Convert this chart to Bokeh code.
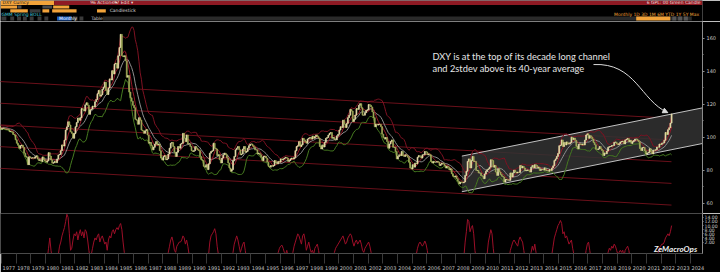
import pandas as pd
from bokeh.plotting import figure
from bokeh.layouts import column
from bokeh.models import (ColumnDataSource, FixedTicker, Range1d, PrintfTickFormatter,
                          Arrow, NormalHead)
from bokeh.core.properties import value
from bokeh.embed import file_html
from bokeh.resources import INLINE

# ---------------- DATA ----------------
first_year = 1976  # monthly closes start Jan 1976 (1976 = warm-up for the bands)

dxy_1970s = [105.2, 104.9, 105.9, 106.2, 106.8, 106.6, 106.3, 106.3, 106.0, 106.0, 105.6, 105.0,
             105.5, 105.6, 105.2, 105.0, 105.0, 104.6, 103.5, 103.6, 103.3, 101.8, 101.5, 98.6,
             96.5, 95.3, 93.4, 95.0, 95.4, 94.0, 90.5, 88.5, 88.0, 83.5, 88.3, 87.5,
             87.5, 87.7, 87.4, 88.3, 88.9, 86.9, 86.0, 86.5, 85.5, 88.2, 86.6, 85.7]
dxy_1980s = [85.0, 85.9, 90.8, 88.7, 86.3, 84.4, 84.7, 85.5, 84.7, 87.0, 89.4, 89.7,
             92.0, 95.5, 94.8, 98.4, 104.5, 106.4, 109.5, 107.5, 103.5, 102.5, 99.5, 102.4,
             106.5, 109.0, 111.8, 110.4, 112.0, 117.5, 117.0, 116.0, 119.8, 121.0, 119.5, 114.0,
             116.8, 117.2, 119.0, 118.5, 121.6, 123.0, 126.5, 128.5, 125.0, 125.8, 129.2, 130.5,
             133.5, 128.5, 126.0, 130.0, 135.5, 134.8, 140.5, 138.5, 144.5, 145.0, 142.0, 149.5,
             154.5, 162.5, 149.5, 149.0, 149.5, 146.5, 136.5, 137.5, 127.5, 124.0, 122.0, 119.5,
             118.0, 111.0, 110.5, 108.0, 112.0, 110.5, 104.5, 104.0, 102.5, 104.0, 104.8, 101.5,
             96.5, 97.0, 95.0, 92.5, 94.0, 96.0, 97.5, 95.5, 96.0, 92.0, 87.5, 86.3,
             88.5, 89.0, 86.5, 87.0, 90.0, 93.5, 96.5, 97.0, 94.5, 91.0, 88.5, 91.0,
             94.5, 93.5, 96.0, 96.5, 102.5, 99.5, 97.5, 101.5, 96.0, 96.0, 94.5, 92.0]
dxy_1990s = [91.5, 92.0, 94.5, 93.5, 92.5, 92.0, 88.5, 86.5, 86.0, 82.5, 82.0, 83.5,
             80.5, 84.0, 90.5, 91.5, 92.0, 96.5, 93.5, 93.0, 89.0, 89.5, 86.5, 84.5,
             87.5, 89.5, 90.5, 89.5, 87.5, 84.5, 81.5, 79.5, 80.5, 86.0, 88.5, 92.5,
             93.5, 94.5, 92.5, 89.5, 90.0, 93.0, 94.5, 91.0, 91.5, 93.5, 95.0, 96.0,
             96.0, 95.0, 94.0, 92.5, 92.5, 90.0, 90.5, 89.5, 88.0, 86.0, 88.5, 88.7,
             87.5, 85.0, 82.5, 82.0, 83.0, 82.5, 83.0, 86.0, 84.5, 84.0, 85.5, 85.0,
             87.0, 86.5, 87.0, 87.5, 88.0, 87.5, 85.5, 86.0, 87.0, 87.5, 87.0, 87.8,
             92.0, 94.5, 95.0, 97.5, 94.5, 95.5, 99.5, 98.5, 97.5, 96.5, 99.0, 99.6,
             100.0, 99.0, 100.8, 99.5, 100.5, 101.5, 100.5, 99.5, 94.5, 93.0, 95.5, 94.2,
             97.0, 99.5, 100.0, 101.5, 102.5, 103.0, 99.5, 100.0, 98.5, 98.5, 101.0, 101.9]
dxy_2000s = [104.5, 106.5, 106.0, 110.5, 108.0, 106.0, 108.5, 112.0, 113.5, 117.0, 116.0, 109.6,
             111.0, 113.5, 117.5, 117.0, 119.5, 120.5, 118.0, 113.5, 113.5, 115.0, 116.5, 116.8,
             120.0, 119.5, 118.5, 115.5, 112.0, 106.5, 108.0, 107.5, 108.0, 108.0, 106.5, 102.0,
             100.0, 99.0, 100.0, 97.5, 93.5, 96.0, 97.5, 98.5, 94.0, 94.0, 91.5, 87.0,
             88.5, 89.5, 89.0, 91.5, 89.0, 88.5, 89.5, 89.0, 88.0, 85.0, 81.5, 80.9,
             83.5, 82.0, 84.5, 84.0, 88.0, 89.0, 88.5, 87.5, 89.5, 89.5, 91.5, 91.2,
             89.5, 90.0, 89.5, 85.5, 84.5, 85.5, 85.0, 85.0, 85.5, 85.0, 83.0, 83.7,
             84.5, 84.0, 83.0, 81.5, 82.5, 82.0, 80.5, 81.0, 78.0, 76.5, 76.0, 76.7,
             75.0, 73.5, 71.8, 73.0, 72.8, 72.5, 73.0, 77.0, 79.5, 85.5, 87.0, 81.5,
             86.0, 88.5, 85.5, 85.5, 80.0, 80.0, 78.5, 78.5, 76.8, 76.5, 75.0, 77.9]
dxy_2010s = [79.5, 80.5, 81.0, 82.0, 86.5, 86.0, 82.0, 83.0, 79.0, 77.0, 81.0, 79.0,
             77.5, 76.5, 76.0, 73.0, 74.5, 74.5, 74.0, 74.0, 78.5, 76.0, 78.5, 80.2,
             79.0, 78.5, 79.0, 78.8, 83.0, 81.5, 82.5, 81.5, 79.8, 80.0, 80.2, 79.8,
             79.0, 82.0, 83.0, 81.5, 83.5, 83.0, 81.5, 82.0, 80.0, 80.5, 80.7, 80.2,
             81.5, 80.0, 80.0, 79.5, 80.5, 80.0, 81.5, 82.8, 86.0, 87.0, 88.5, 90.3,
             95.0, 95.3, 98.5, 94.5, 97.0, 95.5, 97.3, 96.0, 96.2, 97.0, 100.2, 98.7,
             99.6, 98.3, 94.6, 93.1, 95.9, 96.1, 95.5, 96.0, 95.4, 98.4, 101.5, 102.2,
             99.5, 101.1, 100.3, 99.0, 97.0, 95.6, 92.9, 92.7, 93.1, 94.5, 93.0, 92.1,
             89.1, 90.6, 90.1, 91.8, 94.0, 94.5, 94.5, 95.1, 95.1, 97.1, 97.2, 96.2,
             95.6, 96.2, 97.3, 97.5, 97.8, 96.1, 98.5, 98.9, 99.4, 97.4, 98.3, 96.4]
dxy_2020s = [97.4, 98.1, 99.0, 99.0, 98.3, 97.4, 93.3, 92.1, 93.9, 94.0, 91.9, 89.9,
             90.6, 90.9, 93.2, 91.3, 90.0, 92.4, 92.2, 92.6, 94.2, 94.1, 96.0, 95.7,
             96.5, 96.7, 98.3, 103.0, 101.8, 104.7, 105.9, 108.7, 114.2]

ind_1970s = [-6, -6, -6, -6, -6, -6, -6, -6, -6, -6, -6, -6,
             -6, -6, -6, -6, -6, -6, -6, -6, -6, -6, -6, -6,
             -6, -6, -6, -6, -6, -6, -6, -6, -6, -6, -6, -6,
             -6, -6, -6, -6, -6, -6, -6, -6, -6, -6, -6, -6]
ind_1980s = [-6, -6, -1, 4, -2, -6, -6, -6, -6, -6, -4, 0,
             2, 5, 7, 9, 12, 15.5, 14, 6, -2, -1, 3, 6,
             5, 7, 3, 6, 8, 5, 7, 4, 8, 7, 3, -2,
             -6, -4, -1, 2, 4, 3, 5, 6, 2, 4, 5, 3,
             1, 2, -2, 3, 5, 4, 7, 8, 6, 8, 9, 8,
             10, 11, 8, 2, -3, -6, -6, -6, -6, -6, -6, -6,
             -6, -6, -6, -6, -6, -6, -6, -6, -6, -6, -6, -6,
             -6, -6, -6, -6, -6, -6, -6, -6, -6, -6, -6, -6,
             -6, -6, -6, -6, -3, 0, 3, 4.5, 2, -2, -3, 0,
             1, 2, 2, 3, 5, 4, 1, 3, 0, -4, -6, -6]
ind_1990s = [-6, -6, -6, -6, -6, -6, -6, -6, -6, -6, -6, -6,
             -6, -4, 2, 5, 6, 7, 8.5, 6, 0, -4, -6, -6,
             -6, -6, -6, -6, -6, -6, -6, -6, -6, -3, 1, 3,
             5, 3, 0, -3, -1, 1, 2, -2, -6, -6, -6, -6,
             -6, -6, -6, -6, -6, -6, -6, -6, -6, -6, -6, -6,
             -6, -6, -6, -6, -6, -6, -6, -6, -6, -6, -3, -1,
             0, 0.5, -1, -3, -4, -2, -5, -6, -6, -6, -3, 0,
             2, 4, 6, 5, 3, 1, 5, 6, 3, -2, 0, 2,
             -1, -3, -2, -4, -1, 0, 1, -2, -6, -6, -6, -6,
             -6, -6, -6, -6, -6, -6, -6, -6, -3, -1, 0, 1]
ind_2000s = [2, 3, 4, 5, 3, 1, 2, 4, 5, 6, 5, 2,
             0, 2, 3, 1, 2, 3, 1, -2, -3, -1, 0, 1,
             2, 0, -3, -6, -6, -6, -6, -6, -6, -6, -6, -6,
             -6, -6, -6, -6, -6, -6, -6, -6, -6, -6, -6, -6,
             -6, -6, -6, -6, -6, -6, -6, -6, -6, -6, -6, -6,
             -6, -6, -6, -4, -1, 1, 2, 1, 0, 1, 2.5, 1,
             -2, -6, -6, -6, -6, -6, -6, -6, -6, -6, -6, -6,
             -6, -6, -6, -6, -6, -6, -6, -6, -6, -6, -6, -6,
             -6, -6, -6, -6, -6, -6, -5, 2, 7, 13, 12, 7,
             9, 10, 6, -2, -6, -6, -6, -6, -6, -6, -6, -6]
ind_2010s = [-6, -4, 2, 5, 8, 6, -1, -6, -6, -6, -6, -6,
             -6, -6, -6, -6, -6, -6, -6, -6, -2, 0, 2, 3,
             2, 1, 0, 3, 4.5, 3, 2, -2, -6, -6, -6, -6,
             -6, -3, 0, -2, 1, -3, -6, -6, -6, -6, -6, -6,
             -6, -6, -6, -6, -6, -6, -4, 0, 4, 6, 8, 10,
             11, 12.5, 11, 6, 7, 4, 5, 3, 1, 2, 3, -1,
             -4, -6, -6, -6, -6, -6, -6, -6, -6, -6, -2, 1,
             2, -2, -6, -6, -6, -6, -6, -6, -6, -6, -6, -6,
             -6, -6, -6, -6, -3, -1, -2, 0, -1, 1, 0, -2,
             -4, -3, -2, -3, -2, -5, -2, -1, 0, -2, -6, -6]
ind_2020s = [-6, -6, -6, -6, -6, -6, -6, -6, -6, -6, -6, -6,
             -6, -6, -6, -6, -6, -6, -6, -6, -6, -3, -1, 0,
             1, 1, 2, 4, 5, 6, 5, 7, 10]

# 40-year average line and +/-1, +/-2 stdev lines (endpoints)
avg_t = [1976.9, 2022.7]
avg_plus2 = [133.9, 111.6]
avg_plus1 = [120.75, 98.45]
avg_mean = [107.6, 85.3]
avg_minus1 = [94.45, 72.15]
avg_minus2 = [81.3, 59.0]

# decade-long channel
channel_t = [2008.4, 2025.3]
channel_top = [88.7, 118.8]
channel_bottom = [67.1, 97.2]

price_ticks = [60, 80, 100, 120, 140, 160]
ind_ticks = [2, 4, 6, 8, 10, 12, 14]
label_years = list(range(1977, 2025))

note_lines = ["DXY is at the top of its decade long channel",
              "and 2stdev above its 40-year average"]

# ---------------- DERIVED ----------------
closes = dxy_1970s + dxy_1980s + dxy_1990s + dxy_2000s + dxy_2010s + dxy_2020s
ind = ind_1970s + ind_1980s + ind_1990s + ind_2000s + ind_2010s + ind_2020s
t = [first_year + (i + 0.5) / 12.0 for i in range(len(closes))]
t_ind = [first_year + (i + 0.5) / 12.0 for i in range(len(ind))]
opens = [closes[0]] + closes[:-1]
up_col, dn_col = "#ebe2ae", "#a3ad5a"
src = ColumnDataSource(dict(
    t=t,
    top=[max(o, c) for o, c in zip(opens, closes)],
    bottom=[min(o, c) for o, c in zip(opens, closes)],
    color=[up_col if c >= o else dn_col for o, c in zip(opens, closes)],
))
s = pd.Series(closes)
sma6 = s.rolling(6).mean()
sma12 = s.rolling(12).mean()
sd12 = s.rolling(12).std(ddof=0)
bands = ColumnDataSource(dict(t=t, sma6=sma6, sma12=sma12,
                              up=sma12 + 2 * sd12, lo=sma12 - 2 * sd12))

# ---------------- LAYOUT ----------------
BG = "#000000"
X0 = 1976.93
X1 = X0 + 702 / 14.66
xr = Range1d(X0, X1)
FONT = "DejaVu Sans"

# header (terminal toolbar)
hdr = figure(width=720, height=21, x_range=(0, 720), y_range=Range1d(21, 0),
             toolbar_location=None, output_backend="svg", min_border=0,
             outline_line_color=None, background_fill_color=BG, border_fill_color=BG,
             x_axis_location=None, y_axis_location=None)
hdr.grid.visible = False
blocks = [
    (0, 55, 0, 4.5, "#f2a33a"), (55, 720, 0, 4.5, "#8e1a24"),
    (0, 17, 5, 8, "#f2a33a"), (17.5, 21.5, 5, 8, "#4a4a4a"), (43, 53, 5, 8, "#4a4a4a"),
    (54, 70.5, 5, 8, "#f2a33a"),
    (10, 28, 8.7, 12, "#f2a33a"), (30, 41, 8.7, 12, "#3a3a3a"), (43, 50, 8.7, 12, "#f2a33a"),
    (53, 78, 8.7, 12, "#f2a33a"), (99, 108, 8.7, 12, "#f2a33a"),
    (105, 709, 16, 20, "#2a2a2a"), (652, 687, 16, 20, "#f2a33a"),
    (1, 6, 16, 20, "#3a3a3a"), (10, 14, 16, 20, "#3a3a3a"), (17, 21, 16, 20, "#3a3a3a"),
    (23, 27, 16, 20, "#3a3a3a"), (30, 34, 16, 20, "#3a3a3a"), (38, 42, 16, 20, "#3a3a3a"),
    (45, 49, 16, 20, "#3a3a3a"), (58, 73, 16, 20, "#1d5fc4"), (75, 79, 16, 20, "#3a3a3a"),
    (81, 85, 16, 20, "#3a3a3a"), (689, 693, 16, 20, "#555555"), (695, 699, 16, 20, "#555555"),
    (701, 705, 16, 20, "#555555"),
]
hdr.quad(left=[b[0] for b in blocks], right=[b[1] for b in blocks],
         top=[b[2] for b in blocks], bottom=[b[3] for b in blocks],
         fill_color=[b[4] for b in blocks], line_color=None)
htxt = [
    ("DXY Curncy", 2, 2.4, "#1a1a1a", "left"),
    ("96 Actions \u25be", 92, 2.4, "#f3d6d6", "left"),
    ("97 Edit \u25be", 116, 2.4, "#f3d6d6", "left"),
    ("6 GPL: 00 Green Candle", 718, 2.4, "#f3d6d6", "right"),
    ("Candlestick", 112, 10.4, "#d8d8d8", "left"),
    ("GMM Spring  BOLL", 1, 14.2, "#46c8d8", "left"),
    ("Monthly", 60, 18.1, "#ffffff", "left"),
    ("Table", 93, 18.1, "#cccccc", "left"),
    ("Monthly  1D 3D 1M 6M YTD 1Y 5Y Max", 718, 14.2, "#f2a33a", "right"),
]
for txt, x, y, col, al in htxt:
    hdr.text(x=[x], y=[y], text=[txt], text_color=col, text_align=al,
             text_baseline="middle", text_font=value(FONT), text_font_size="4.5px")

# main price panel
main = figure(width=720, height=192, x_range=xr, y_range=Range1d(53.9, 170.3),
              toolbar_location=None, output_backend="svg",
              min_border_left=0, min_border_top=0, min_border_bottom=0, min_border_right=18,
              background_fill_color=BG, border_fill_color=BG, outline_line_color=None,
              x_axis_location=None, y_axis_location="right")
main.grid.visible = False
ya = main.yaxis[0]
ya.ticker = FixedTicker(ticks=price_ticks, minor_ticks=[70, 90, 110, 130, 150])
ya.axis_line_color = "#8c8c8c"
ya.major_tick_line_color = "#8c8c8c"
ya.minor_tick_line_color = "#8c8c8c"
ya.major_tick_in = 0
ya.major_tick_out = 2
ya.minor_tick_in = 0
ya.minor_tick_out = 1
ya.major_label_standoff = 2
ya.major_label_text_font = FONT
ya.major_label_text_font_size = "5px"
ya.major_label_text_color = "#c8c8c8"

# 40-year average and stdev lines
for arr in (avg_plus2, avg_plus1, avg_mean, avg_minus1, avg_minus2):
    main.line(avg_t, arr, line_color="#6a101a", line_width=1)

# channel
main.patch([channel_t[0], channel_t[1], channel_t[1], channel_t[0]],
           [channel_top[0], channel_top[1], channel_bottom[1], channel_bottom[0]],
           fill_color="#333333", fill_alpha=0.85, line_color=None)
main.line(channel_t, channel_top, line_color="#c0c0c0", line_width=1)
main.line(channel_t, channel_bottom, line_color="#c0c0c0", line_width=1)

# bands
main.line("t", "up", source=bands, line_color="#7e1222", line_width=1)
main.line("t", "lo", source=bands, line_color="#467a20", line_width=1)
main.line("t", "sma12", source=bands, line_color="#8e8e8e", line_width=1)
main.line("t", "sma6", source=bands, line_color="#961628", line_width=1)

# candles
main.vbar(x="t", width=0.06, top="top", bottom="bottom", fill_color="color",
          line_color="color", line_width=0.7, source=src)

# annotation
main.text(x=[2006.4, 2006.4], y=[149.1, 142.1], text=note_lines,
          text_font=value("Lato"), text_font_size="9.3px", text_color="#e6e6e6",
          text_baseline="middle", text_align="left")
main.bezier(x0=[2017.38], y0=[144.2], x1=[2022.43], y1=[115.15],
            cx0=[2020.25], cy0=[145.45], cx1=[2020.59], cy1=[122.42],
            line_color="#dcdcdc", line_width=1)
main.add_layout(Arrow(end=NormalHead(size=5, fill_color="#dcdcdc", line_color="#dcdcdc"),
                      x_start=2022.25, y_start=115.88, x_end=2022.45, y_end=115.05,
                      line_color="#dcdcdc", line_width=1))

# lower indicator panel
lower = figure(width=720, height=59, x_range=xr, y_range=Range1d(-3.56, 15.87),
               toolbar_location=None, output_backend="svg",
               min_border_left=0, min_border_top=0, min_border_bottom=10, min_border_right=18,
               background_fill_color=BG, border_fill_color=BG,
               outline_line_color="#4a4a4a", outline_line_width=1,
               y_axis_location="right")
lower.grid.visible = False
lower.line(t_ind, ind, line_color="#9c0f28", line_width=1)
lower.text(x=[2024.45], y=[-1.5], text=["ZeMacroOps"], text_align="right",
           text_baseline="middle", text_font=value("Lato"), text_font_style="bold italic",
           text_font_size="8px", text_color="#f0f0f0")

la = lower.yaxis[0]
la.ticker = FixedTicker(ticks=ind_ticks)
la.formatter = PrintfTickFormatter(format="%.2f")
la.axis_line_color = "#8c8c8c"
la.major_tick_line_color = "#8c8c8c"
la.major_tick_in = 0
la.major_tick_out = 1
la.major_label_standoff = 1
la.major_label_text_font = FONT
la.major_label_text_font_size = "4.6px"
la.major_label_text_color = "#c8c8c8"

xa = lower.xaxis[0]
xa.ticker = FixedTicker(ticks=[y + 0.5 for y in label_years],
                        minor_ticks=list(range(1977, 2026)))
xa.major_label_overrides = {y + 0.5: str(y) for y in label_years}
xa.axis_line_color = "#4a4a4a"
xa.major_tick_in = 0
xa.major_tick_out = 0
xa.minor_tick_in = 0
xa.minor_tick_out = 10
xa.minor_tick_line_color = "#3a3a3a"
xa.major_label_standoff = 2
xa.major_label_text_font = FONT
xa.major_label_text_font_size = "5px"
xa.major_label_text_color = "#c0c0c0"

layout = column(hdr, main, lower, spacing=0)
open("out.html", "w").write(file_html(layout, INLINE))
